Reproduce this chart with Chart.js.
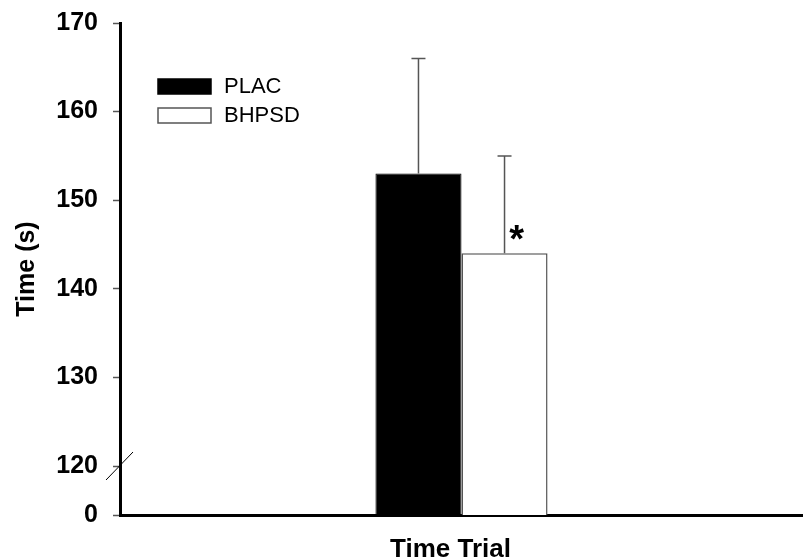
<!DOCTYPE html>
<html>
<head>
<meta charset="utf-8">
<script src="https://cdn.jsdelivr.net/npm/chart.js@4/dist/chart.umd.min.js"></script>
<style>
  html, body { margin: 0; padding: 0; background: #fff; }
  #wrap { width: 803px; height: 560px; }
</style>
</head>
<body>
<div id="wrap"><canvas id="chart"></canvas></div>
<script>
// data
const categories = ["Time Trial"];
const seriesNames = ["PLAC", "BHPSD"];
const placMeans = [153];
const placSD = [13];
const bhpsdMeans = [144];
const bhpsdSD = [11];
const significant = [[false], [true]];   // * marks per series / category
const yTicks = [120, 130, 140, 150, 160, 170];
const axisFloor = 114.47;   // value drawn as "0" below the axis break
const breakAt = 120;

const errors = [placSD, bhpsdSD];
const FONT = "Arial, 'Liberation Sans', sans-serif";

// upward-only error bars plus significance stars
const errorBarPlugin = {
    id: "errorBars",
    afterDatasetsDraw(chart) {
        const ctx = chart.ctx;
        const y = chart.scales.y;
        chart.data.datasets.forEach((ds, di) => {
            const meta = chart.getDatasetMeta(di);
            meta.data.forEach((bar, i) => {
                const top = y.getPixelForValue(ds.data[i] + errors[di][i]);
                ctx.save();
                ctx.strokeStyle = "#555";
                ctx.lineWidth = 1.5;
                ctx.beginPath();
                ctx.moveTo(bar.x, bar.y);
                ctx.lineTo(bar.x, top);
                ctx.moveTo(bar.x - 7, top);
                ctx.lineTo(bar.x + 7, top);
                ctx.stroke();
                if (significant[di][i]) {
                    ctx.fillStyle = "#000";
                    ctx.font = "bold 38px " + FONT;
                    ctx.textAlign = "center";
                    ctx.textBaseline = "middle";
                    ctx.fillText("*", bar.x + 12, bar.y - 12);
                }
                ctx.restore();
            });
        });
    }
};

// axis break slash and in-plot legend
const decorPlugin = {
    id: "decor",
    afterDraw(chart) {
        const ctx = chart.ctx;
        const y = chart.scales.y;
        const area = chart.chartArea;
        const by = y.getPixelForValue(breakAt);
        ctx.save();
        ctx.strokeStyle = "#000";
        ctx.lineWidth = 1;
        ctx.beginPath();
        ctx.moveTo(area.left - 14, by + 14);
        ctx.lineTo(area.left + 13, by - 14);
        ctx.stroke();

        ctx.font = "22px " + FONT;
        ctx.textBaseline = "middle";
        ctx.textAlign = "left";
        chart.data.datasets.forEach((ds, di) => {
            const bx = area.left + 38;
            const byy = area.top + 56 + di * 29;
            ctx.fillStyle = ds.backgroundColor;
            ctx.fillRect(bx, byy, 53, 15);
            ctx.strokeStyle = ds.borderColor;
            ctx.lineWidth = 1.5;
            ctx.strokeRect(bx, byy, 53, 15);
            ctx.fillStyle = "#000";
            ctx.fillText(ds.label, bx + 66, byy + 8);
        });
        ctx.restore();
    }
};

const tickFont = { family: FONT, size: 25, weight: "bold" };

new Chart(document.getElementById("chart").getContext("2d"), {
    type: "bar",
    data: {
        labels: categories,
        datasets: [
            {
                label: seriesNames[0],
                data: placMeans,
                backgroundColor: "#000",
                borderColor: "#000",
                borderWidth: 1,
                borderSkipped: "bottom"
            },
            {
                label: seriesNames[1],
                data: bhpsdMeans,
                backgroundColor: "#fff",
                borderColor: "#555",
                borderWidth: 1.5,
                borderSkipped: "bottom"
            }
        ]
    },
    options: {
        responsive: true,
        maintainAspectRatio: false,
        animation: false,
        devicePixelRatio: 1,
        layout: { padding: { top: 23, right: 0, left: 0, bottom: 0 } },
        categoryPercentage: 0.252,
        barPercentage: 1,
        plugins: {
            legend: { display: false },
            tooltip: { enabled: false }
        },
        scales: {
            x: {
                afterFit(scale) {
                    scale.height = 45;
                },
                grid: { display: false, drawTicks: false },
                border: { display: true, color: "#000", width: 3 },
                ticks: {
                    color: "#000",
                    font: { family: FONT, size: 26, weight: "bold" },
                    padding: 19,
                    labelOffset: -11
                }
            },
            y: {
                min: axisFloor,
                max: 170,
                afterBuildTicks(scale) {
                    scale.ticks = [axisFloor].concat(yTicks).map(v => ({ value: v }));
                },
                afterFit(scale) {
                    scale.width = 120;
                    scale.paddingTop = 0;
                    scale.paddingBottom = 0;
                },
                grid: { drawOnChartArea: false, tickLength: 7, color: "#555", tickWidth: 1.5 },
                border: { display: true, color: "#000", width: 3 },
                ticks: {
                    color: "#000",
                    font: tickFont,
                    padding: 15,
                    callback: v => (v === axisFloor ? "0" : v)
                },
                title: {
                    display: true,
                    text: "Time (s)",
                    color: "#000",
                    font: { family: FONT, size: 25, weight: "bold" },
                    padding: { top: 12, bottom: 0 }
                }
            }
        }
    },
    plugins: [errorBarPlugin, decorPlugin]
});
</script>
</body>
</html>
